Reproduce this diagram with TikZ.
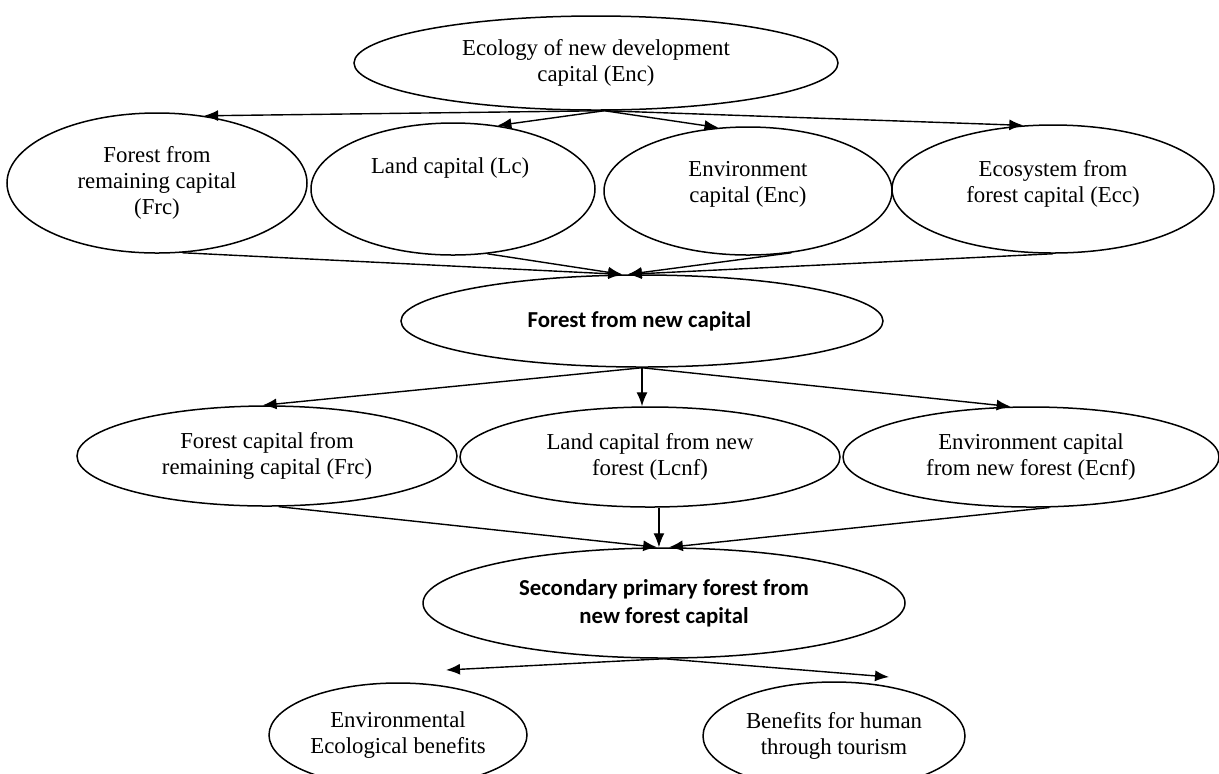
\documentclass[tikz,border=0pt]{standalone}
\usepackage{fontspec}
\setmainfont{Liberation Serif}
\newfontfamily\headfont{Carlito}
\usepackage{tikz}
\usetikzlibrary{shapes.geometric,arrows.meta}

\begin{document}
\begin{tikzpicture}[x=0.5pt ,y=-0.5pt ,-{Latex[length=7pt,width=5.5pt]} ,line width =0.7pt ,ell/.style ={ ellipse ,draw ,line width =0.75pt ,inner sep =0pt ,align =center ,font =\fontsize{11.4}{13}\selectfont } ,key/.style ={ ell ,font =\headfont\bfseries\fontsize{11.4}{14}\selectfont }]
\useasboundingbox (0,0) rectangle (1219,773);
\clip (0,0) rectangle (1219,773);
\node[ell ,minimum width =242pt ,minimum height =47pt] (top) at (596,63) { Ecology of new development\\ capital (Enc) };
\node[ell ,minimum width =150pt ,minimum height =70pt] (frc) at (157,183) { Forest from\\ remaining capital\\ (Frc) };
\node[ell ,minimum width =142pt ,minimum height =66pt ,text depth =23.5pt] (lc) at (453,189) { Land capital (Lc) };
\node[ell ,minimum width =144pt ,minimum height =64pt ,text depth =9pt] (enc) at (748,191) { Environment\\ capital (Enc) };
\node[ell ,minimum width =161pt ,minimum height =64pt ,text depth =8pt] (ecc) at (1053,189) { Ecosystem from\\ forest capital (Ecc) };
\node[key ,minimum width =241pt ,minimum height =46pt] (mid) at (642,321) { Forest from new capital };
\node[ell ,minimum width =190pt ,minimum height =50pt] (frc2) at (267,456) { Forest capital from\\ remaining capital (Frc) };
\node[ell ,minimum width =190pt ,minimum height =50pt] (lcnf) at (650,457) { Land capital from new\\ forest (Lcnf) };
\node[ell ,minimum width =188pt ,minimum height =50pt] (ecnf) at (1031,457) { Environment capital\\ from new forest (Ecnf) };
\node[key ,minimum width =241pt ,minimum height =55pt] (sec) at (664,603) { Secondary primary forest from\\ new forest capital };
\node[ell ,minimum width =129pt ,minimum height =52pt] (env) at (398,735) { Environmental\\ Ecological benefits };
\node[ell ,minimum width =131pt ,minimum height =54pt] (tour) at (834,736) { Benefits for human\\ through tourism };
\coordinate (envtip) at (446,670);
\coordinate (tourtip) at (889,677);
\path (top.-80) edge (frc.55) edge (lc.55) edge (enc.115) edge (ecc.115);
\path (frc.-70) edge (mid.113) (lc.-62) edge (mid.113) (enc.-55) edge (mid.107) (ecc.south) edge (mid.107);
\path (mid.south) edge (frc2.95) edge (mid.south |- lcnf.north) edge (ecnf.112);
\path (frc2.-77) edge (sec.97) (lcnf.-80) edge (lcnf.-80 |- sec.north) (ecnf.-70) edge (sec.85);
\path (sec.south) edge (envtip) edge (tourtip);
\end{tikzpicture}
\end{document}
